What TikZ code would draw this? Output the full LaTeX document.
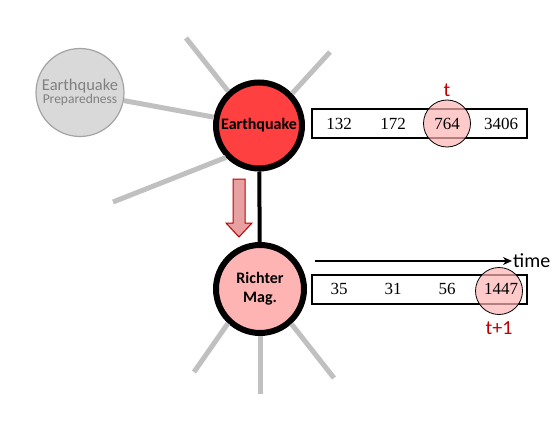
\documentclass[tikz,border=0pt]{standalone}
\usepackage{fontspec}
\setmainfont{Carlito}
\newfontfamily\numfont{Liberation Serif}
\usetikzlibrary{positioning,arrows.meta}
\definecolor{quakered}{RGB}{255,64,64}
\definecolor{magpink}{RGB}{255,180,180}
\definecolor{darkred}{RGB}{192,0,0}
\definecolor{arrowpink}{RGB}{232,160,160}
\definecolor{spokegray}{RGB}{192,192,192}
\definecolor{prepgray}{RGB}{217,217,217}

\begin{document}
\begin{tikzpicture}[x=1pt,y=-1pt,
  var/.style={circle,draw=black,line width=6pt,inner sep=0pt,
              minimum size=86pt,align=center,
              font=\bfseries\fontsize{16}{19}\selectfont},
  other/.style={circle,draw=spokegray!85!black,fill=prepgray,line width=1.2pt,
                inner sep=0pt,minimum size=88pt,align=center,text=gray},
  spoke/.style={spokegray,line width=5pt},
  series/.style={draw,line width=2pt,minimum width=215pt,
                 minimum height=29pt,inner sep=0pt},
  num/.style={font=\numfont\fontsize{17}{19}\selectfont},
  pick/.style={circle,draw,line width=0.8pt,fill=magpink,fill opacity=0.7,
               inner sep=0pt,minimum size=47pt},
  lbl/.style={text=darkred,font=\fontsize{20}{22}\selectfont}]
  \useasboundingbox (0,0) rectangle (552,428);

  % variables
  \node[var,fill=quakered] (eq) at (259,125.5) {Earthquake};
  \node[var,fill=magpink,minimum size=88pt] (rich) at (260,289) {Richter\\Mag.};
  \node[other] (prep) at (80,92.5)
    {{\fontsize{16.5}{18}\selectfont Earthquake}\\{\fontsize{13.5}{15}\selectfont Preparedness}};

  % gray neighbours
  \coordinate (s1) at (186,38);  \coordinate (s2) at (330,52);
  \coordinate (s3) at (113,202);
  \coordinate (r1) at (194,372); \coordinate (r2) at (260,394);
  \coordinate (r3) at (334,378);
  \draw[spoke] (eq.132) -- (s1);
  \draw[spoke] (eq.44) -- (s2);
  \draw[spoke] (eq.224) -- (s3);
  \draw[spoke] (prep) -- (eq);
  \draw[spoke] (rich.227) -- (r1);
  \draw[spoke] (rich.270) -- (r2);
  \draw[spoke] (rich.312) -- (r3);
  \draw[line width=4pt] (eq) -- (rich);

  % influence arrow
  \draw[darkred,fill=arrowpink,line width=1pt]
    (233,179) -- (245,179) -- (245,223) -- (252,223) -- (239,237)
    -- (226,223) -- (233,223) -- cycle;

  % time series
  \node[series] (boxA) at (419.5,123.5) {};
  \node[series] (boxB) at (419.5,289) {};
  \node[pick] (hlA) at (447,123.5) {};
  \node[pick] (hlB) at (499,291) {};
  \foreach \v [count=\i] in {132,172,764,3406}
    \node[num] (a\i) at (285+54*\i,123.5) {\v};
  \foreach \v [count=\i] in {35,31,56,1447}
    \node[num] (b\i) at (285+54*\i,289) {\v};
  \node[lbl,above=-1pt of hlA] (tA) {t};
  \node[lbl,below=3pt of hlB] (tB) {t+1};

  \coordinate (ts) at (315,261);
  \node[anchor=west,font=\fontsize{20}{22}\selectfont,inner sep=1pt] (time) at (512,261) {time};
  \draw[line width=1.5pt,-{Stealth[length=9pt,width=8pt]}] (ts) -- (time.west);
\end{tikzpicture}
\end{document}
